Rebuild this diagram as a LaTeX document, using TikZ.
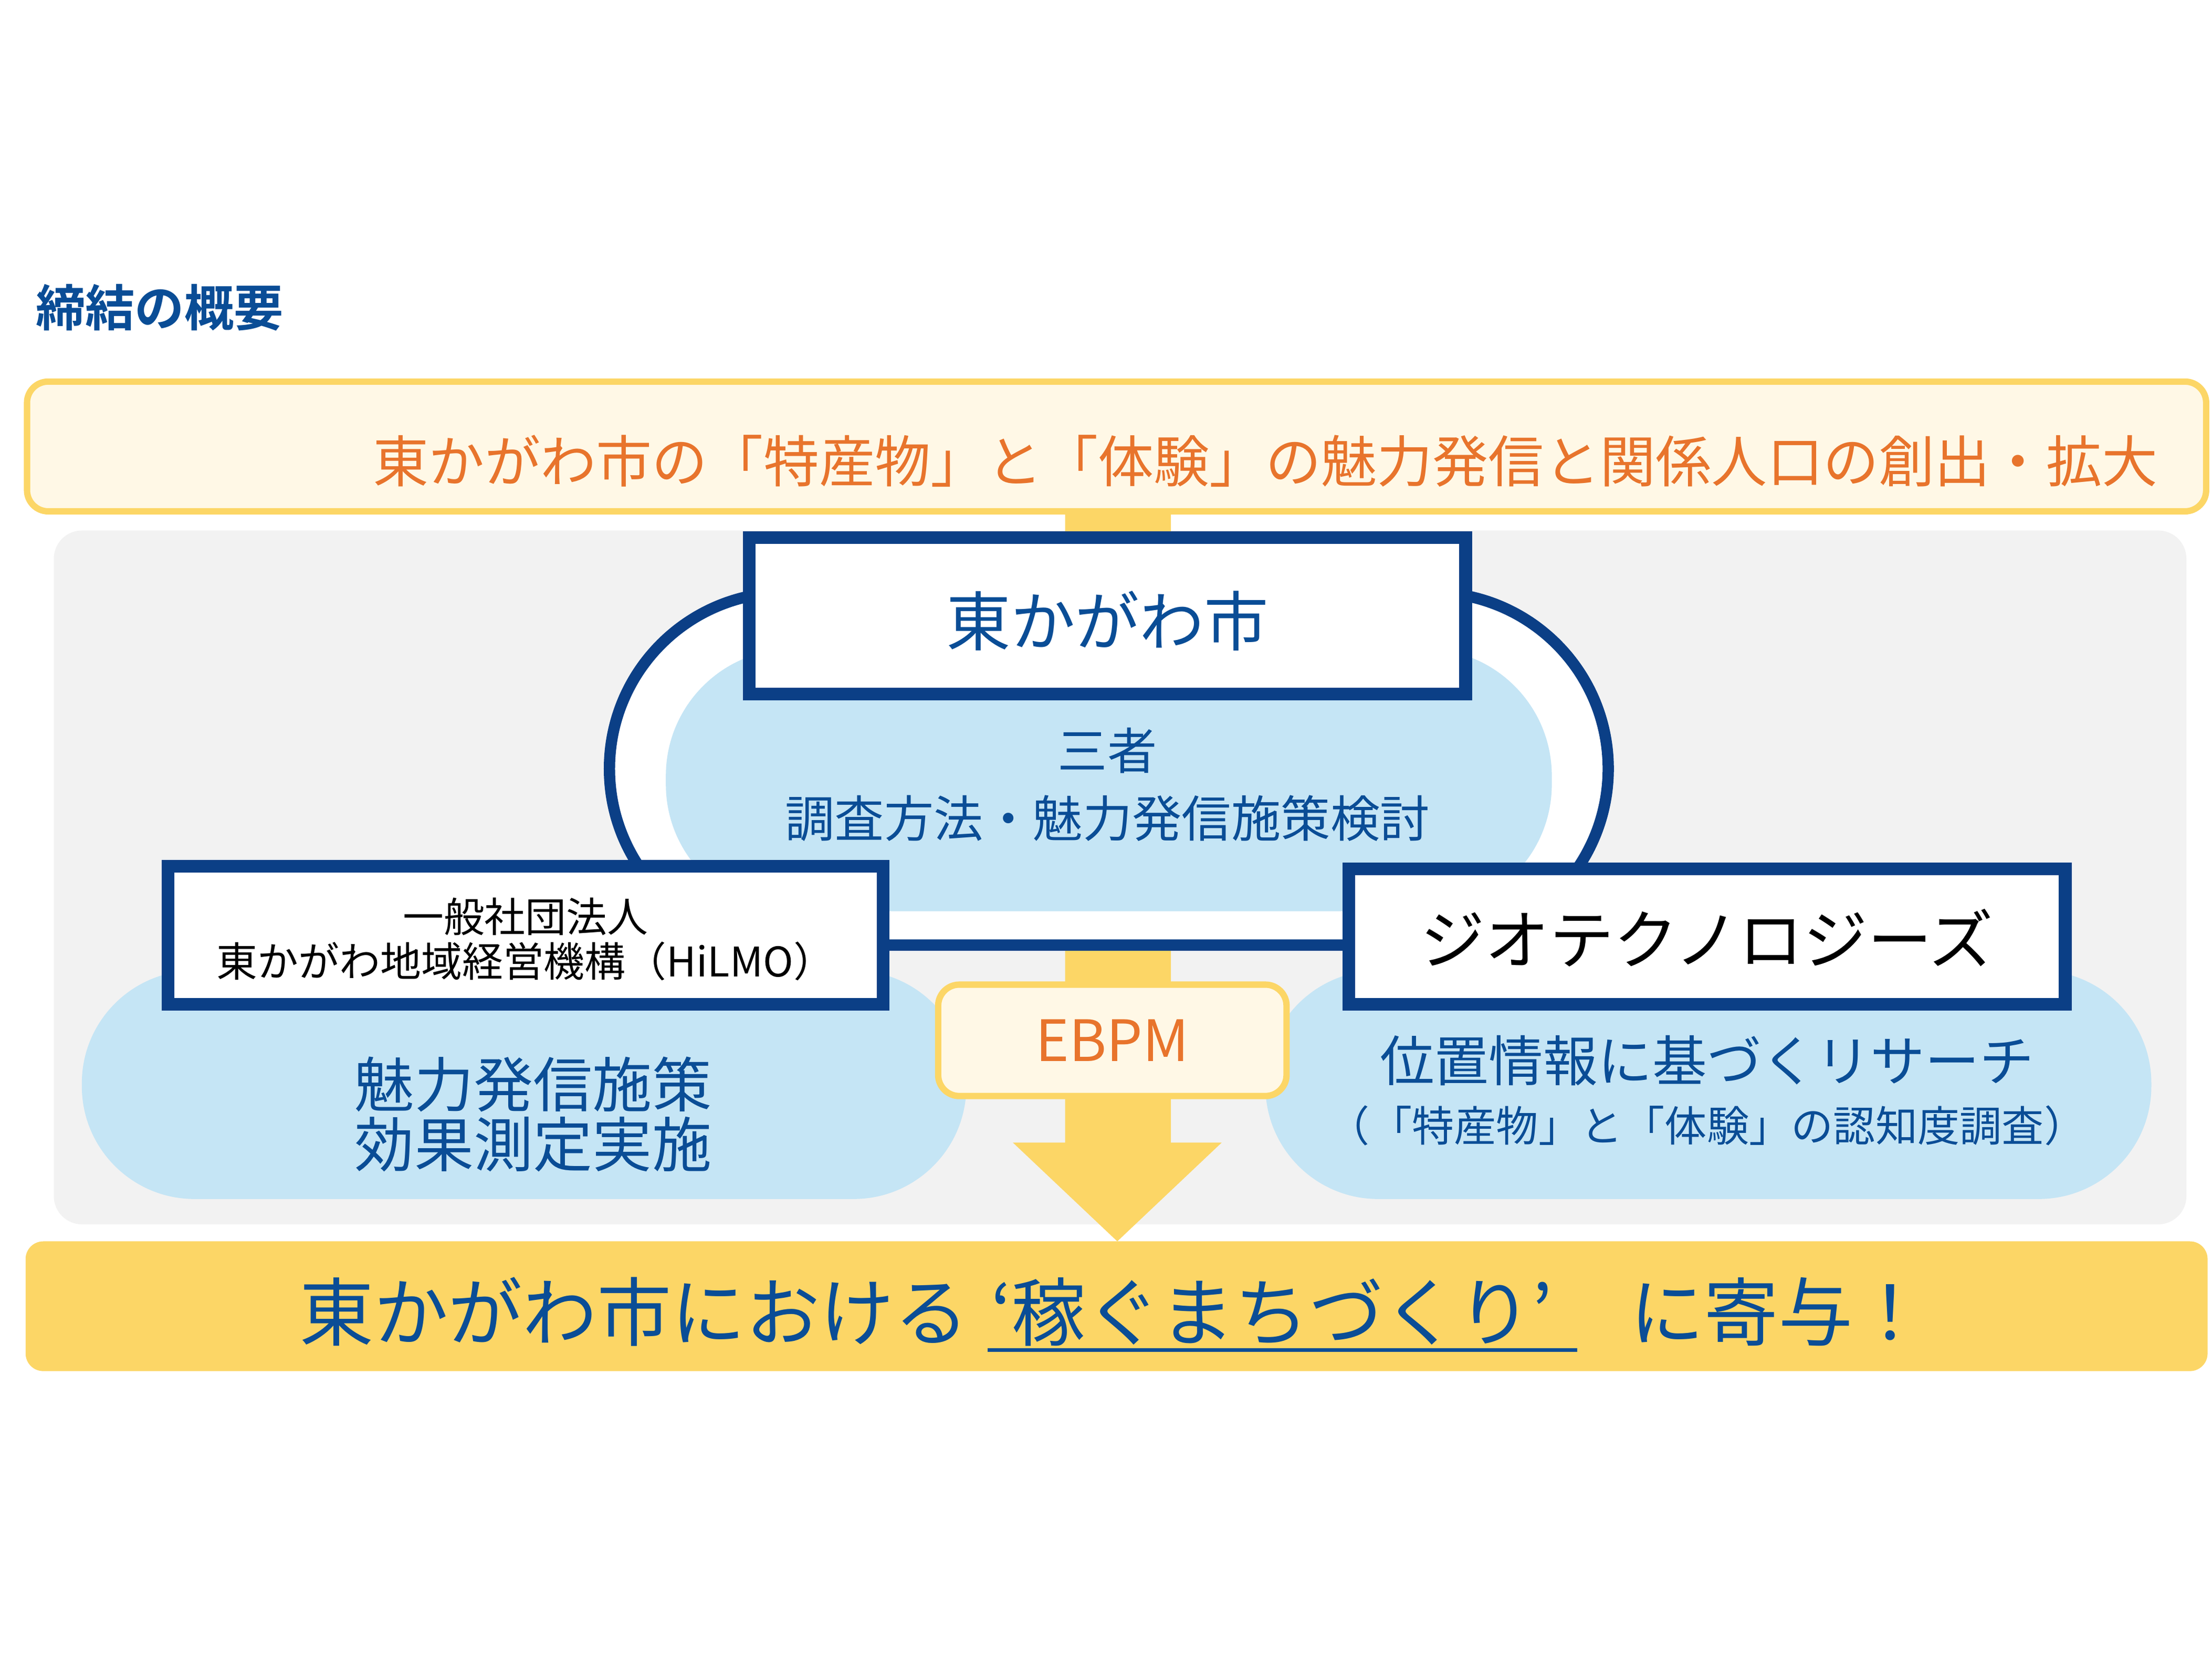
\documentclass[tikz,border=0pt]{standalone}
\usepackage{fontspec}
\setmainfont{Noto Sans CJK JP}
\newfontfamily\jpb{Noto Sans CJK JP}[BoldFont={* Bold}]
\definecolor{navy}{HTML}{0B3F86}
\definecolor{tblue}{HTML}{0A4D96}
\definecolor{ora}{HTML}{E8742C}
\definecolor{ylw}{HTML}{FCD666}
\definecolor{cream}{HTML}{FFF8E6}
\definecolor{lblue}{HTML}{C5E5F5}
\definecolor{gry}{HTML}{F2F2F2}
\begin{document}
\begin{tikzpicture}[x=0.02cm,y=-0.02cm,
  every node/.style={inner sep=0pt,align=center},
  box/.style={draw=navy,line width=0.14cm,fill=white},
  inbox/.style={draw=navy,line width=0.04cm},
  cloud/.style={fill=lblue,rounded corners=1.6cm}]
\useasboundingbox (0,0) rectangle (1568,1176);
\node[anchor=west,text=tblue,font=\jpb\bfseries\fontsize{20}{24}\selectfont] (title) at (25,218) {締結の概要};
\node[draw=ylw,line width=0.09cm,fill=cream,rounded corners=0.3cm,minimum width=30.9cm,minimum height=1.84cm] (top) at (791.5,316.5) {};
\node[text=ora,font=\fontsize{22.5}{26}\selectfont] (toptxt) at (897,327) {東かがわ市の「特産物」と「体験」の魅力発信と関係人口の創出・拡大};
\node[fill=gry,rounded corners=0.4cm,minimum width=30.24cm,minimum height=9.84cm] (bg) at (794,622) {};
% yellow arrow
\fill[ylw] (755,363) -- (830,363) -- (830,810) -- (866,810) -- (792,880) -- (718,810) -- (755,810) -- cycle;
\coordinate (arrowtip) at (792,880);
% loop
\draw[navy,line width=0.16cm,fill=white,rounded corners=2.5cm] (432,420) rectangle (1140,670);
\fill[lblue,rounded corners=1.8cm] (472,460) rectangle (1100,646);
\fill[cloud] (58,688) rectangle (685,850);
\fill[cloud] (897,688) rectangle (1525,850);
% top box
\node[box,minimum width=10.2cm,minimum height=2.26cm] (city) at (785,436.5) {};
\draw[inbox] ([shift={(8,8)}]city.north west) rectangle ([shift={(-8,-8)}]city.south east);
\node[text=tblue,font=\fontsize{26}{30}\selectfont] (citytxt) at (785,440) {東かがわ市};
\node[text=tblue,font=\fontsize{20}{24}\selectfont] (sansha) at (785,532) {三者};
\node[text=tblue,font=\fontsize{20}{24}\selectfont] (kento) at (785,580) {調査方法・魅力発信施策検討};
% left box
\node[box,minimum width=10.18cm,minimum height=2cm] (hil) at (372.5,663) {};
\draw[inbox] ([shift={(8,8)}]hil.north west) rectangle ([shift={(-8,-8)}]hil.south east);
\node[font=\fontsize{16.5}{20}\selectfont] (hiltxt) at (372.5,666) {一般社団法人\\[-2pt]東かがわ地域経営機構（HiLMO）};
\node[text=tblue,font=\fontsize{24}{28}\selectfont] (lefttxt) at (378,790) {魅力発信施策\\[-4pt]効果測定実施};
% right box
\node[box,minimum width=10.2cm,minimum height=1.96cm] (geo) at (1210,664) {};
\draw[inbox] ([shift={(8,8)}]geo.north west) rectangle ([shift={(-8,-8)}]geo.south east);
\node[font=\fontsize{26}{30}\selectfont] (geotxt) at (1210,665) {ジオテクノロジーズ};
\node[text=tblue,font=\fontsize{22}{26}\selectfont] (r1) at (1210,752) {位置情報に基づくリサーチ};
\node[text=tblue,font=\fontsize{17}{20}\selectfont] (r2) at (1210,798) {（「特産物」と「体験」の認知度調査）};
% EBPM
\node[draw=ylw,line width=0.09cm,fill=cream,rounded corners=0.3cm,minimum width=4.94cm,minimum height=1.58cm,text=ora,font=\fontsize{23}{26}\selectfont] (ebpm) at (788.5,737.5) {EBPM};
% bottom
\node[fill=ylw,rounded corners=0.25cm,minimum width=30.94cm,minimum height=1.84cm] (bot) at (791.5,926) {};
\node[anchor=west,text=tblue,font=\fontsize{30}{34}\selectfont] (b1) at (212,930) {東かがわ市における};
\node[anchor=west,text=tblue,font=\fontsize{30}{34}\selectfont] (b2) at (702,930) {‘稼ぐまちづくり’};
\draw[tblue,line width=0.05cm] (700,957) -- (1118,957);
\node[anchor=west,text=tblue,font=\fontsize{30}{34}\selectfont] (b3) at (1155,930) {に寄与！};
\end{tikzpicture}
\end{document}
